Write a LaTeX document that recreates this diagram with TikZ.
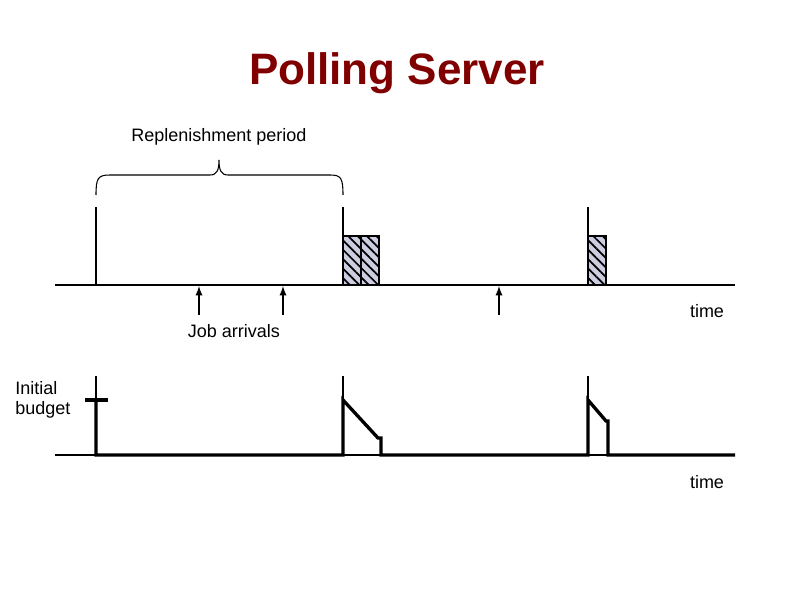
\documentclass[tikz,border=0pt]{standalone}
\usepackage{fontspec}
\setmainfont{Liberation Sans}
\usetikzlibrary{patterns.meta,decorations.pathreplacing}
\definecolor{titlered}{RGB}{128,0,0}
\definecolor{barfill}{RGB}{205,205,225}
\begin{document}
\begin{tikzpicture}[x=0.75pt,y=-0.75pt,
  thin line/.style={draw=black,line width=0.8pt},
  thick line/.style={draw=black,line width=2.5pt},
  lbl/.style={font=\fontsize{13.5}{15.5}\selectfont},
  barbox/.style={draw=black,line width=0.8pt,fill=barfill,postaction={pattern={Lines[angle=-45,distance=5pt,line width=1.3pt]}}}]
\useasboundingbox (0,0) rectangle (794,595);
\node[font=\bfseries\fontsize{33}{36}\selectfont,text=titlered] (title) at (397,73) {Polling Server};
\node[lbl] (rep) at (219,137) {Replenishment period};
\node[lbl] (t1) at (707,311) {time};
\node[lbl] (t2) at (707,482) {time};
\node[lbl] (ja) at (234,331) {Job arrivals};
\node[lbl,align=left,anchor=west,inner sep=0pt] (ib) at (15,400) {Initial\\budget};
% top axis
\draw[thin line] (55,285) -- (735,285);
\draw[thin line] (96,207) -- (96,285);
\draw[thin line] (343,207) -- (343,236);
\draw[thin line] (588,207) -- (588,236);
\draw[thin line] (96,195) .. controls (96,178) and (98,175) .. (110,175) -- (210,175) .. controls (217,175) and (219,170) .. (219,160)
  .. controls (219,170) and (221,175) .. (228,175) -- (330,175) .. controls (341,175) and (343,178) .. (343,195);
\path[barbox] (343,236) rectangle (361,285);
\path[barbox] (361,236) rectangle (379,285);
\path[barbox] (588,236) rectangle (606,285);
\foreach \x in {199,283,499} \draw[thin line,line width=1.4pt,-latex] (\x,315) -- (\x,286);
% bottom
\draw[thin line] (55,455) -- (735,455);
\foreach \x in {96,343,588} \draw[thin line] (\x,376) -- (\x,455);
\draw[thick line] (85,400) -- (108,400);
\draw[thick line,line join=miter] (96,400) -- (96,455) -- (343,455) -- (343,400) -- (378,438) -- (381,438) -- (381,455) -- (588,455) -- (588,400) -- (606,421) -- (608,421) -- (608,455) -- (735,455);
\end{tikzpicture}
\end{document}
